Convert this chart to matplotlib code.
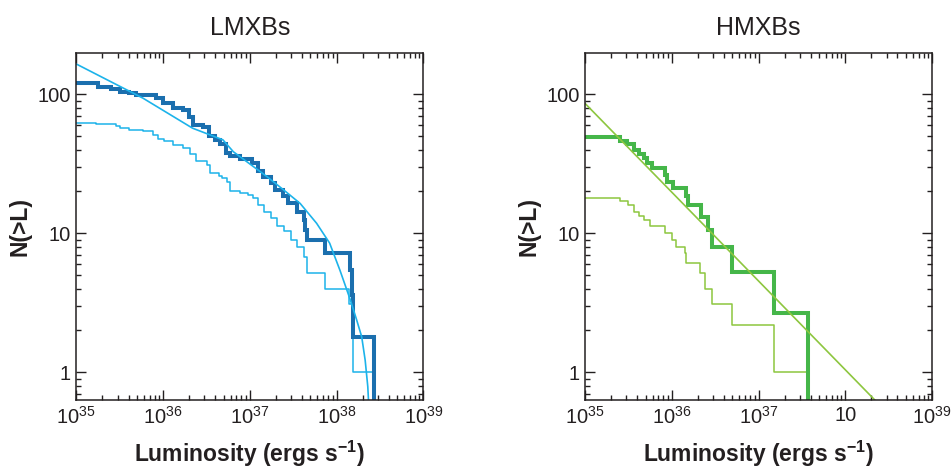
import numpy as np
import matplotlib
matplotlib.use('Agg')
import matplotlib.pyplot as plt
from matplotlib.ticker import FixedLocator, FixedFormatter, LogLocator, NullFormatter

plt.rcParams['font.family'] = ['Liberation Sans', 'DejaVu Sans']
plt.rcParams['mathtext.fontset'] = 'custom'
plt.rcParams['mathtext.rm'] = 'Liberation Sans'
plt.rcParams['mathtext.bf'] = 'Liberation Sans:bold'
plt.rcParams['mathtext.default'] = 'regular'

# ---- LMXBs (log10 L where the step happens) ----
lmxb_all_logL = [35.00, 35.25, 35.40, 35.50, 35.61, 35.69, 35.92, 36.00, 36.12, 36.23,
                 36.30, 36.35, 36.46, 36.53, 36.60, 36.66, 36.72, 36.77, 36.89, 37.02,
                 37.10, 37.15, 37.25, 37.29, 37.38, 37.44, 37.54, 37.62, 37.64, 37.66,
                 37.87, 38.16, 38.18, 38.19, 38.43]
lmxb_all_N = [120, 113, 109, 104, 102, 99, 94, 86, 79, 77,
              69, 60, 58, 50, 47, 44, 38, 36, 34, 32,
              28, 25.5, 23, 20.5, 18.4, 16.4, 14.2, 12.5, 10.6, 8.9,
              7.2, 5.4, 3.6, 1.8, 0.1]

lmxb_sub_logL = [35.00, 35.23, 35.46, 35.50, 35.61, 35.77, 35.88, 35.94, 36.01, 36.11,
                 36.23, 36.31, 36.38, 36.51, 36.54, 36.64, 36.68, 36.74, 36.77, 36.89,
                 36.98, 37.04, 37.10, 37.16, 37.25, 37.31, 37.39, 37.47, 37.54, 37.62,
                 37.66, 37.87, 38.14, 38.19, 38.43]
lmxb_sub_N = [62.5, 61, 59, 57, 55, 54, 51, 48, 46, 43,
              41, 37, 33, 31, 27, 26, 25, 23.5, 20, 19.5,
              19, 18, 16, 14.3, 12.8, 11.2, 10.3, 9, 8, 6.8,
              5.2, 4.0, 3.1, 1.0, 0.1]

lmxb_fit_logL = [35.00, 35.77, 36.34, 36.69, 36.81, 37.20, 37.39, 37.58, 37.77, 37.92,
                 38.04, 38.16, 38.23, 38.29, 38.33, 38.36, 38.37]
lmxb_fit_N = [165, 93.6, 57, 47, 38.6, 25.5, 20.5, 16.4, 11.8, 8.5,
              5.4, 3.3, 2.4, 1.8, 1.22, 0.79, 0.6]

# ---- HMXBs ----
hmxb_all_logL = [35.00, 35.40, 35.48, 35.56, 35.62, 35.68, 35.71, 35.77, 35.92, 35.94,
                 36.02, 36.17, 36.19, 36.34, 36.42, 36.46, 36.70, 37.18, 37.57]
hmxb_all_N = [49, 46, 43.6, 40, 37, 35, 32, 29.5, 26.3, 23.5,
              21, 18.4, 16, 13.2, 10.6, 8.0, 5.3, 2.66, 0.1]

hmxb_sub_logL = [35.00, 35.40, 35.50, 35.56, 35.62, 35.68, 35.75, 35.92, 36.00, 36.05,
                 36.15, 36.17, 36.32, 36.38, 36.46, 36.70, 37.18, 37.57]
hmxb_sub_N = [18, 17, 16, 14.3, 13.3, 12.5, 11.2, 10, 9, 8,
              7.2, 6.1, 5.2, 4.0, 3.1, 2.2, 1.0, 0.1]

hmxb_fit_logL = [35.0, 38.5]
hmxb_fit_N = [86, 0.5]

xticks_lmxb = [r'$\mathdefault{10^{35}}$', r'$\mathdefault{10^{36}}$', r'$\mathdefault{10^{37}}$',
               r'$\mathdefault{10^{38}}$', r'$\mathdefault{10^{39}}$']
xticks_hmxb = [r'$\mathdefault{10^{35}}$', r'$\mathdefault{10^{36}}$', r'$\mathdefault{10^{37}}$',
               '10', r'$\mathdefault{10^{39}}$']

dark_blue = '#1b6fae'
cyan = '#1cb3ea'
green = '#45b649'
light_green = '#8dc63f'

fig = plt.figure(figsize=(9.51, 4.72), dpi=100)
ax1 = fig.add_axes([76.3/951, 72/472, 347/951, 347.3/472])
ax2 = fig.add_axes([585/951, 72/472, 347/951, 347.3/472])


def setup(ax, title, xlabels):
    ax.set_xscale('log')
    ax.set_yscale('log')
    ax.set_xlim(1e35, 1e39)
    ax.set_ylim(0.632, 199)
    ax.xaxis.set_major_locator(FixedLocator([1e35, 1e36, 1e37, 1e38, 1e39]))
    ax.xaxis.set_major_formatter(FixedFormatter(xlabels))
    ax.xaxis.set_minor_locator(LogLocator(base=10, subs=np.arange(2, 10)))
    ax.xaxis.set_minor_formatter(NullFormatter())
    ax.yaxis.set_major_locator(FixedLocator([1, 10, 100]))
    ax.yaxis.set_major_formatter(FixedFormatter(['1', '10', '100']))
    ax.yaxis.set_minor_locator(LogLocator(base=10, subs=np.arange(2, 10)))
    ax.yaxis.set_minor_formatter(NullFormatter())
    ax.tick_params(which='both', direction='in', top=True, right=True,
                   colors='#231f20', labelcolor='#231f20', width=1.0)
    ax.tick_params(which='major', length=7, labelsize=14.5, pad=4)
    ax.tick_params(which='minor', length=3.8)
    for s in ax.spines.values():
        s.set_color('#231f20')
        s.set_linewidth(1.1)
    ax.set_title(title, fontsize=18, pad=13, color='#231f20')
    ax.set_xlabel(r'Luminosity (ergs s$^{\mathbf{-1}}$)', fontsize=16.5,
                  fontweight='bold', labelpad=8, color='#231f20')
    ax.set_ylabel('N(>L)', fontsize=16.5, fontweight='bold', labelpad=4, color='#231f20')


setup(ax1, 'LMXBs', xticks_lmxb)
setup(ax2, 'HMXBs', xticks_hmxb)

ax1.step(10**np.array(lmxb_sub_logL), lmxb_sub_N, where='post', color=cyan, lw=1.1)
ax1.step(10**np.array(lmxb_all_logL), lmxb_all_N, where='post', color=dark_blue, lw=2.9,
         solid_joinstyle='miter')
ax1.plot(10**np.array(lmxb_fit_logL), lmxb_fit_N, color=cyan, lw=1.2)

ax2.step(10**np.array(hmxb_sub_logL), hmxb_sub_N, where='post', color=light_green, lw=1.1)
ax2.step(10**np.array(hmxb_all_logL), hmxb_all_N, where='post', color=green, lw=2.9,
         solid_joinstyle='miter')
ax2.plot(10**np.array(hmxb_fit_logL), hmxb_fit_N, color=light_green, lw=1.2)

fig.savefig('out.png', dpi=100)
